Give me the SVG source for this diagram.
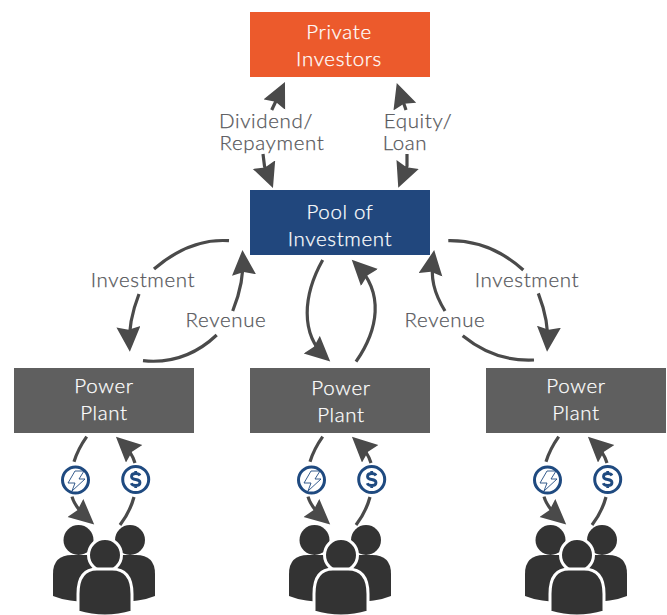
<svg xmlns="http://www.w3.org/2000/svg" width="667" height="615" viewBox="0 0 667 615">
<style>
text{font-family:"Lato","Liberation Sans",sans-serif;font-weight:300;font-size:20.500px;text-anchor:middle;letter-spacing:.65px;stroke-width:.25px}
.n{fill:#fff;stroke:#fff}
.l{fill:#55565a;stroke:#55565a}
.c{fill:none;stroke:#4a4a4a;stroke-width:3.2;marker-end:url(#a)}
.p{fill:none;stroke:#4a4a4a;stroke-width:3.2}
.ic{fill:#fff;stroke:#1f4a80;stroke-width:3}
</style>
<defs>
<marker id="a" markerUnits="userSpaceOnUse" markerWidth="30" markerHeight="30" refX="19" refY="12" orient="auto">
<path d="M0 0L25 12L0 24L3 12Z" fill="#4a4a4a"/>
</marker>
<g id="people">
<g fill="#333">
<circle cx="78.500" cy="540" r="15"/><circle cx="130" cy="540" r="15"/>
<path d="M53 596V574Q53 555 72 555H100V602Q70 603 53 596Z"/>
<path d="M155 596V574Q155 555 136 555H108V602Q138 603 155 596Z"/>
</g>
<g fill="#333" stroke="#fff" stroke-width="3">
<circle cx="105" cy="555" r="16.500"/>
<path d="M78 612V594Q78 569 97 569H112Q132 569 132 594V612Q105 620 78 612Z"/>
</g>
</g>
<g id="bolt">
<circle class="ic" cx="75.500" cy="480" r="13"/>
<path d="M75 471H84L79 479H85L72 491L75 483H68Z" fill="none" stroke="#1f4a80" stroke-width=".9"/>
</g>
<g id="dollar">
<circle class="ic" cx="135.700" cy="479.500" r="13"/>
<path d="M140 475.500Q139 473.500 135.700 473.500Q131.500 473.500 131.500 476.500Q131.500 479.200 135.700 479.500Q140 480 140 482.700Q140 485.500 135.700 485.500Q132 485.500 131.200 483.300M135.700 471V473.500M135.700 485.500V488" fill="none" stroke="#1f4a80" stroke-width="2.800"/>
</g>
</defs>
<g id="connectors">
<path class="c" d="M271.700 110L282.400 87.400"/>
<path class="c" d="M263 154L264.500 166L270.800 182.400"/>
<path class="c" d="M406 110L398.700 88.600"/>
<path class="c" d="M407 154L407 166L400.500 182.100"/>
<path class="p" d="M229 240.700Q190 238 154 269"/>
<path class="c" d="M139 294C132 312 128.500 328 129.500 345.700"/>
<path class="p" d="M143 360.700Q185 365 216.700 335"/>
<path class="c" d="M232.700 311C240 293 244 275 242.800 256"/>
<path class="c" d="M322.700 260C303 295 300 334 325.800 357.500"/>
<path class="c" d="M356 361.700C378 330 385 293 356 264.100"/>
<path class="p" d="M448.300 240.700Q490 240 523.300 270"/>
<path class="c" d="M538.300 293.300C544 308 549 326 547.500 345.700"/>
<path class="p" d="M534 360Q495 362 462.700 335.700"/>
<path class="c" d="M445 311C434 293 430 278 433.300 256"/>
<g id="pair1">
<path class="p" d="M86.700 436.700Q78 449 74 461.700"/><path class="c" d="M72 496.700C74 504 80 512 89.700 520.500"/>
<path class="p" d="M120 525Q130 512 134 497"/><path class="c" d="M135 463C133 456 128 448 120.300 440.800"/>
</g>
<g id="pair2" transform="translate(236 0)">
<path class="p" d="M86.700 436.700Q78 449 74 461.700"/><path class="c" d="M72 496.700C74 504 80 512 89.700 520.500"/>
<path class="p" d="M120 525Q130 512 134 497"/><path class="c" d="M135 463C133 456 128 448 120.300 440.800"/>
</g>
<g id="pair3" transform="translate(472 0)">
<path class="p" d="M86.700 436.700Q78 449 74 461.700"/><path class="c" d="M72 496.700C74 504 80 512 89.700 520.500"/>
<path class="p" d="M120 525Q130 512 134 497"/><path class="c" d="M135 463C133 456 128 448 120.300 440.800"/>
</g>
</g>
<g id="investors"><rect x="250" y="12" width="180" height="65" fill="#ec5a2c"/><text class="n" x="339" y="39">Private</text><text class="n" x="339" y="66">Investors</text></g>
<g id="pool"><rect x="250" y="190" width="180" height="65" fill="#21477d"/><text class="n" x="340" y="219">Pool of</text><text class="n" x="340" y="246">Investment</text></g>
<g id="plant1"><rect x="14" y="368" width="180" height="65" fill="#5f5f5f"/><text class="n" x="104" y="393">Power</text><text class="n" x="104" y="420">Plant</text></g>
<g id="plant2"><rect x="250" y="368" width="180" height="65" fill="#5f5f5f"/><text class="n" x="341" y="395">Power</text><text class="n" x="341" y="422">Plant</text></g>
<g id="plant3"><rect x="486" y="368" width="180" height="65" fill="#5f5f5f"/><text class="n" x="576" y="393">Power</text><text class="n" x="576" y="420">Plant</text></g>
<g id="labels">
<text class="l" x="266" y="128">Dividend/</text><text class="l" x="272" y="150">Repayment</text>
<text class="l" x="418" y="128">Equity/</text><text class="l" x="405" y="150">Loan</text>
<text class="l" x="143" y="287">Investment</text><text class="l" x="226" y="327">Revenue</text>
<text class="l" x="527" y="287">Investment</text><text class="l" x="445" y="327">Revenue</text>
</g>
<g id="customers1"><use href="#bolt"/><use href="#dollar"/><use href="#people"/></g>
<g id="customers2" transform="translate(236 0)"><use href="#bolt"/><use href="#dollar"/><use href="#people"/></g>
<g id="customers3" transform="translate(472 0)"><use href="#bolt"/><use href="#dollar"/><use href="#people"/></g>
</svg>
